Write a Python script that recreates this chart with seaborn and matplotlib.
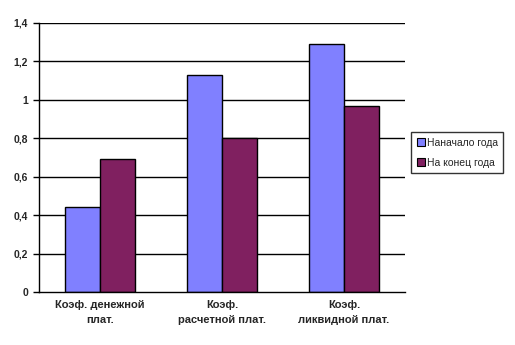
import matplotlib
matplotlib.use("Agg")
import matplotlib.pyplot as plt
import seaborn as sns
import pandas as pd
from matplotlib.patches import Patch

categories = ["Коэф. денежной\nплат.", "Коэф.\nрасчетной плат.", "Коэф.\nликвидной плат."]
series_names = ["Наначало года", "На конец года"]
start_values = [0.44, 1.13, 1.29]
end_values = [0.69, 0.80, 0.97]
yticks = [0, 0.2, 0.4, 0.6, 0.8, 1.0, 1.2, 1.4]
ytick_labels = ["0", "0,2", "0,4", "0,6", "0,8", "1", "1,2", "1,4"]
colors = ["#8080FF", "#802060"]

df = pd.DataFrame({
    "cat": categories * 2,
    "series": [series_names[0]] * 3 + [series_names[1]] * 3,
    "value": start_values + end_values,
})

sns.set_style("white")
plt.rcParams['font.family'] = ['Liberation Sans', 'DejaVu Sans']

fig = plt.figure(figsize=(5.15, 3.45), dpi=100)
ax = fig.add_axes([39/515, 53/345, 366/515, 269/345])

sns.barplot(data=df, x="cat", y="value", hue="series", palette=colors,
            width=0.571, gap=0, edgecolor="black", linewidth=1.0,
            saturation=1, ax=ax, legend=False, zorder=3)

ax.set_ylim(0, 1.4)
ax.set_xlim(-0.5, 2.5)
ax.set_yticks(yticks)
ax.set_yticklabels(ytick_labels, fontsize=7.5, fontweight="bold")
for y in yticks[1:]:
    ax.axhline(y, color="black", linewidth=1.0, zorder=1)
ax.set_xticks(range(3))
ax.set_xticklabels(categories, fontsize=8, fontweight="bold", linespacing=1.55)
ax.set_xticks([-0.5, 0.5, 1.5, 2.5], minor=True)
ax.tick_params(axis="x", which="major", length=0, pad=6)
ax.tick_params(axis="x", which="minor", length=4, width=1, color="black", direction="out")
ax.tick_params(axis="y", length=4, width=1, color="black", direction="out", pad=4, left=True)
ax.set_xlabel("")
ax.set_ylabel("")
for s in ["top", "right"]:
    ax.spines[s].set_visible(False)
for s in ["left", "bottom"]:
    ax.spines[s].set_color("black")
    ax.spines[s].set_linewidth(1.0)
    ax.spines[s].set_zorder(4)

handles = [Patch(facecolor=c, edgecolor="black", linewidth=0.8) for c in colors]
leg = fig.legend(handles, series_names, loc="upper left",
                 bbox_to_anchor=(411/515, 1 - 132/345),
                 prop={"size": 7.5},
                 frameon=True, fancybox=False, borderpad=0.55,
                 handlelength=0.75, handleheight=0.75, handletextpad=0.2,
                 labelspacing=0.95, borderaxespad=0)
leg.get_frame().set_edgecolor("black")
leg.get_frame().set_linewidth(1.0)

fig.savefig("out.png", dpi=100)
